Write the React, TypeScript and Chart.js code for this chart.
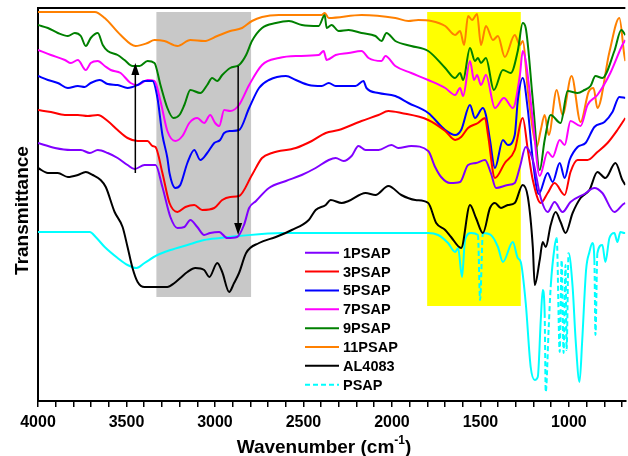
import React, { useEffect, useRef } from "react";
import { Chart, registerables } from "chart.js";
Chart.register(...registerables);

// ---------- data (wavenumber cm-1, transmittance a.u. with offsets) ----------
const seriesNames = ["1PSAP", "3PSAP", "5PSAP", "7PSAP", "9PSAP", "11PSAP", "AL4083", "PSAP"];
const seriesColors = ["#8000ff", "#ff0000", "#0000ff", "#ff00ff", "#008000", "#ff8000", "#000000", "#00ffff"];

const psap1: [number, number][] = [[4000,258],[3904,253],[3814,251],[3758,251],[3707,248],[3662,251],[3606,248],[3550,243],[3494,236],[3454,232],[3398,236],[3336,236],[3297,214],[3252,184],[3212,173],[3173,174],[3139,181],[3100,174],[3061,166],[3027,168],[2976,169],[2931,163],[2875,164],[2836,176],[2807,193],[2768,200],[2695,213],[2599,220],[2510,226],[2431,233],[2357,241],[2318,243],[2273,240],[2228,245],[2189,255],[2149,251],[2076,251],[2003,256],[1964,253],[1891,255],[1795,250],[1756,234],[1722,224],[1671,218],[1615,219],[1570,236],[1525,238],[1474,241],[1441,228],[1412,213],[1345,216],[1306,218],[1277,234],[1244,254],[1204,241],[1159,203],[1120,189],[1081,199],[1036,189],[991,199],[912,207],[856,213],[811,208],[743,189],[692,197],[681,198]];

const psap3: [number, number][] = [[4000,291],[3927,289],[3848,286],[3775,286],[3719,285],[3662,286],[3606,280],[3550,271],[3494,263],[3437,260],[3381,260],[3353,255],[3336,254],[3297,228],[3257,198],[3212,189],[3167,194],[3117,196],[3072,191],[3004,193],[2959,201],[2914,204],[2864,205],[2791,226],[2734,243],[2678,248],[2543,253],[2453,260],[2374,268],[2301,271],[2172,280],[2076,286],[2020,290],[1947,288],[1795,281],[1699,270],[1643,261],[1609,264],[1570,273],[1514,278],[1474,283],[1457,266],[1418,223],[1362,238],[1306,251],[1261,283],[1232,251],[1204,221],[1159,198],[1120,208],[1081,218],[1024,206],[991,229],[951,241],[895,241],[839,249],[782,258],[726,271],[681,283]];

const psap5: [number, number][] = [[4000,325],[3944,321],[3888,318],[3831,313],[3775,315],[3736,314],[3702,318],[3651,321],[3606,317],[3550,316],[3494,313],[3437,316],[3398,320],[3353,320],[3325,303],[3297,266],[3269,243],[3257,228],[3224,213],[3196,216],[3156,238],[3117,251],[3083,241],[3044,248],[3004,258],[2971,261],[2948,268],[2914,270],[2864,271],[2807,293],[2751,313],[2695,321],[2599,325],[2543,321],[2470,316],[2397,315],[2357,318],[2318,315],[2206,315],[2161,320],[2144,313],[2076,308],[1981,305],[1907,298],[1795,288],[1699,271],[1643,266],[1609,271],[1559,296],[1531,283],[1486,293],[1469,286],[1446,261],[1418,233],[1373,261],[1345,256],[1306,266],[1289,300],[1261,323],[1232,291],[1204,241],[1171,207],[1120,228],[1092,219],[1052,238],[1024,223],[996,241],[951,254],[906,258],[856,274],[799,279],[754,289],[715,304],[681,303]];

const psap7: [number, number][] = [[4000,351],[3927,346],[3848,341],[3814,338],[3775,341],[3730,331],[3702,338],[3662,340],[3623,335],[3589,331],[3533,328],[3477,318],[3437,316],[3381,321],[3342,320],[3308,300],[3269,270],[3224,260],[3184,265],[3145,278],[3100,283],[3061,278],[3027,286],[2999,278],[2976,275],[2948,291],[2914,290],[2864,296],[2807,316],[2734,336],[2639,343],[2543,345],[2414,346],[2386,350],[2369,341],[2318,346],[2245,348],[2172,350],[2132,343],[2059,340],[2037,345],[1981,335],[1891,328],[1795,321],[1699,313],[1643,306],[1615,313],[1598,305],[1559,340],[1536,321],[1519,326],[1497,316],[1469,326],[1418,293],[1367,303],[1317,293],[1277,326],[1261,350],[1244,340],[1204,281],[1165,225],[1120,249],[1092,244],[1052,261],[1024,256],[991,280],[934,275],[895,296],[839,306],[766,328],[698,356],[681,361]];

const psap9: [number, number][] = [[4000,376],[3944,373],[3888,368],[3831,365],[3792,368],[3758,365],[3730,355],[3702,363],[3662,368],[3634,356],[3606,350],[3550,346],[3511,341],[3466,335],[3426,335],[3381,340],[3342,338],[3308,316],[3269,293],[3235,283],[3201,286],[3173,296],[3139,311],[3083,308],[3044,316],[3016,323],[2987,320],[2959,326],[2914,333],[2864,336],[2824,346],[2791,360],[2734,373],[2656,378],[2582,380],[2509,376],[2414,375],[2380,386],[2369,373],[2341,376],[2301,370],[2245,371],[2172,368],[2093,365],[2059,360],[2031,368],[1981,360],[1891,355],[1795,350],[1699,333],[1643,323],[1615,328],[1598,321],[1559,353],[1531,340],[1514,343],[1497,338],[1469,343],[1424,311],[1373,331],[1328,328],[1289,350],[1261,378],[1244,373],[1204,301],[1165,231],[1137,261],[1103,286],[1047,278],[1007,310],[951,308],[912,311],[878,315],[850,325],[811,323],[743,350],[704,371],[681,366]];

const psap11: [number, number][] = [[4000,389],[3679,389],[3623,383],[3533,366],[3449,355],[3381,358],[3342,361],[3286,360],[3212,355],[3139,361],[3061,360],[2987,365],[2914,370],[2847,373],[2791,380],[2734,384],[2639,386],[2397,386],[2380,388],[2357,383],[2172,386],[1981,383],[1907,380],[1851,381],[1778,380],[1699,375],[1643,366],[1615,370],[1592,356],[1570,385],[1547,381],[1519,387],[1497,356],[1469,375],[1429,361],[1401,365],[1362,344],[1306,366],[1277,356],[1261,360],[1232,310],[1204,271],[1182,254],[1159,271],[1137,286],[1114,266],[1069,311],[1036,286],[985,325],[934,279],[889,309],[861,313],[839,293],[771,349],[715,383],[687,346],[681,340]];

const al4083: [number, number][] = [[4000,233],[3944,228],[3888,228],[3831,224],[3775,226],[3730,229],[3691,226],[3646,221],[3617,214],[3567,189],[3522,174],[3494,154],[3466,133],[3437,119],[3398,114],[3325,114],[3269,114],[3229,118],[3196,123],[3156,129],[3111,133],[3061,131],[3032,124],[2987,138],[2959,129],[2920,109],[2892,118],[2864,128],[2824,148],[2751,158],[2656,164],[2566,171],[2470,181],[2431,191],[2374,196],[2346,201],[2284,198],[2245,200],[2149,208],[2093,206],[2020,215],[1947,206],[1868,201],[1795,198],[1750,178],[1699,171],[1666,164],[1609,153],[1559,196],[1525,183],[1486,168],[1446,193],[1418,198],[1384,193],[1345,196],[1306,198],[1261,216],[1232,204],[1204,154],[1193,116],[1165,141],[1148,159],[1131,154],[1103,176],[1075,189],[1047,179],[1019,168],[979,188],[934,203],[884,211],[839,229],[794,223],[737,238],[698,221],[681,216]];

const psap: [number, number][] = [[4000,169],[3707,169],[3674,164],[3623,154],[3550,143],[3494,136],[3443,133],[3398,138],[3325,146],[3252,151],[3156,156],[3061,161],[2971,163],[2864,165],[2622,168],[2414,168],[1795,168],[1739,166],[1683,158],[1643,149],[1626,153],[1604,124],[1587,161],[1553,168],[1514,166],[1502,101],[1486,168],[1441,166],[1401,154],[1373,139],[1317,159],[1289,143],[1272,139],[1244,98],[1216,34],[1193,21],[1176,24],[1159,81],[1148,111],[1137,88],[1131,9],[1114,74],[1103,114],[1081,154],[1069,163],[1052,49],[1041,141],[1030,48],[1019,136],[1013,51],[1002,148],[979,114],[962,61],[940,19],[925,60],[903,131],[884,149],[867,158],[856,141],[850,66],[839,148],[811,156],[794,139],[771,163],[743,168],[726,159],[709,169],[687,168],[681,168]];

const seriesData = [psap1, psap3, psap5, psap7, psap9, psap11, al4083, psap];

const xTickLabels = [4000, 3500, 3000, 2500, 2000, 1500, 1000];
const xRange = [681, 4000];
const yRange = [0, 393];

// shaded regions: [from wn, to wn, bottom, top]
const greyBand = [3331, 2796, 104, 389];
const yellowBand = [1801, 1272, 95, 389];
// arrows: [wn, start, tip]
const arrowUp = [3450, 228, 338];
const arrowDown = [2869, 335, 166];

const FONT = '"Liberation Sans", Arial, Helvetica, sans-serif';

const decorPlugin = {
  id: "decor",
  beforeDatasetsDraw(chart: any) {
    const { ctx, scales } = chart;
    const x = scales.x, y = scales.y;
    ctx.save();
    const bands: [number[], string][] = [[greyBand, "#c8c8c8"], [yellowBand, "#ffff00"]];
    for (const [b, col] of bands) {
      const x1 = x.getPixelForValue(b[0]);
      const x2 = x.getPixelForValue(b[1]);
      const yb = y.getPixelForValue(b[2]);
      const yt = y.getPixelForValue(b[3]);
      ctx.fillStyle = col;
      ctx.fillRect(Math.min(x1, x2), yt, Math.abs(x2 - x1), yb - yt);
    }
    ctx.restore();
  },
  afterDatasetsDraw(chart: any) {
    const { ctx, scales, chartArea } = chart;
    const x = scales.x, y = scales.y;
    ctx.save();
    // arrows
    for (const a of [arrowUp, arrowDown]) {
      const px = x.getPixelForValue(a[0]);
      const y0 = y.getPixelForValue(a[1]);
      const y1 = y.getPixelForValue(a[2]);
      const dir = y1 < y0 ? -1 : 1;
      ctx.strokeStyle = "#000";
      ctx.lineWidth = 1.5;
      ctx.beginPath();
      ctx.moveTo(px, y0);
      ctx.lineTo(px, y1 - dir * 10);
      ctx.stroke();
      ctx.fillStyle = "#000";
      ctx.beginPath();
      ctx.moveTo(px, y1);
      ctx.lineTo(px - 4, y1 - dir * 12);
      ctx.lineTo(px + 4, y1 - dir * 12);
      ctx.closePath();
      ctx.fill();
    }
    // top frame
    ctx.strokeStyle = "#000";
    ctx.lineWidth = 2;
    ctx.beginPath();
    ctx.moveTo(chartArea.left - 1, chartArea.top);
    ctx.lineTo(chartArea.right, chartArea.top);
    ctx.stroke();

    // legend
    const lx = chartArea.left + 267;
    const ly = chartArea.top + 244.7;
    const dy = 18.86;
    ctx.font = `bold 14.5px ${FONT}`;
    ctx.textBaseline = "middle";
    ctx.textAlign = "left";
    seriesNames.forEach((name, i) => {
      const yy = ly + i * dy;
      ctx.strokeStyle = seriesColors[i];
      ctx.lineWidth = 2;
      ctx.setLineDash(i === 7 ? [5, 3] : []);
      ctx.beginPath();
      ctx.moveTo(lx, yy);
      ctx.lineTo(lx + 34, yy);
      ctx.stroke();
      ctx.setLineDash([]);
      ctx.fillStyle = "#000";
      ctx.fillText(name, lx + 38, yy + 1);
    });

    // axis titles
    ctx.fillStyle = "#000";
    ctx.font = `bold 19px ${FONT}`;
    ctx.textBaseline = "alphabetic";
    const main = "Wavenumber (cm";
    const sup = "-1";
    const close = ")";
    const wMain = ctx.measureText(main).width;
    ctx.font = `bold 12px ${FONT}`;
    const wSup = ctx.measureText(sup).width;
    ctx.font = `bold 19px ${FONT}`;
    const wClose = ctx.measureText(close).width;
    const total = wMain + wSup + wClose;
    const cx = 324;
    let sx = cx - total / 2;
    const by = chart.height - 3;
    ctx.fillText(main, sx, by);
    ctx.font = `bold 12px ${FONT}`;
    ctx.fillText(sup, sx + wMain, by - 9);
    ctx.font = `bold 19px ${FONT}`;
    ctx.fillText(close, sx + wMain + wSup, by);

    ctx.save();
    ctx.translate(28, (chartArea.top + chartArea.bottom) / 2 + 6);
    ctx.rotate(-Math.PI / 2);
    ctx.textAlign = "center";
    ctx.fillText("Transmittance", 0, 0);
    ctx.restore();

    ctx.restore();
  },
};

export default function App() {
  const ref = useRef<HTMLCanvasElement>(null);
  useEffect(() => {
    document.body.style.margin = "0";
    const datasets = seriesData.map((d, i) => ({
      label: seriesNames[i],
      data: d,
      borderColor: seriesColors[i],
      backgroundColor: seriesColors[i],
      borderWidth: 2,
      pointRadius: 0,
      fill: false,
      cubicInterpolationMode: "monotone" as const,
      ...(i === 7
        ? {
            segment: {
              borderDash: (c: any) => {
                const dx = Math.abs(c.p1.x - c.p0.x);
                const dyy = Math.abs(c.p1.y - c.p0.y);
                return dyy > 20 * Math.max(dx, 0.3) ? [5, 3] : undefined;
              },
            },
          }
        : {}),
    }));
    const chart = new Chart(ref.current!, {
      type: "line",
      data: { datasets: datasets as any },
      options: {
        animation: false,
        responsive: true,
        maintainAspectRatio: false,
        events: [],
        layout: { padding: { top: 8, left: 0, right: 0, bottom: 0 } },
        plugins: { legend: { display: false }, tooltip: { enabled: false } },
        scales: {
          x: {
            type: "linear",
            reverse: true,
            min: xRange[0],
            max: xRange[1],
            afterFit: (s: any) => {
              s.height = 55;
            },
            border: { display: true, width: 2, color: "#000" },
            grid: {
              display: true,
              drawOnChartArea: false,
              drawTicks: true,
              tickLength: 6,
              color: "#000",
              lineWidth: 1.5,
            },
            ticks: {
              stepSize: 100,
              autoSkip: false,
              maxRotation: 0,
              includeBounds: false,
              padding: 6,
              color: "#000",
              font: { family: FONT, size: 16, weight: "bold" },
              callback: (v: any) => (xTickLabels.includes(Number(v)) ? String(v) : ""),
            },
          },
          y: {
            type: "linear",
            min: yRange[0],
            max: yRange[1],
            afterFit: (s: any) => {
              s.width = 38;
            },
            border: { display: true, width: 2, color: "#000" },
            grid: { display: false },
            ticks: { display: false },
          },
        },
      },
      plugins: [decorPlugin],
    });
    return () => chart.destroy();
  }, []);
  return (
    <div style={{ position: "relative", width: 628, height: 456 }}>
      <canvas ref={ref} />
    </div>
  );
}
